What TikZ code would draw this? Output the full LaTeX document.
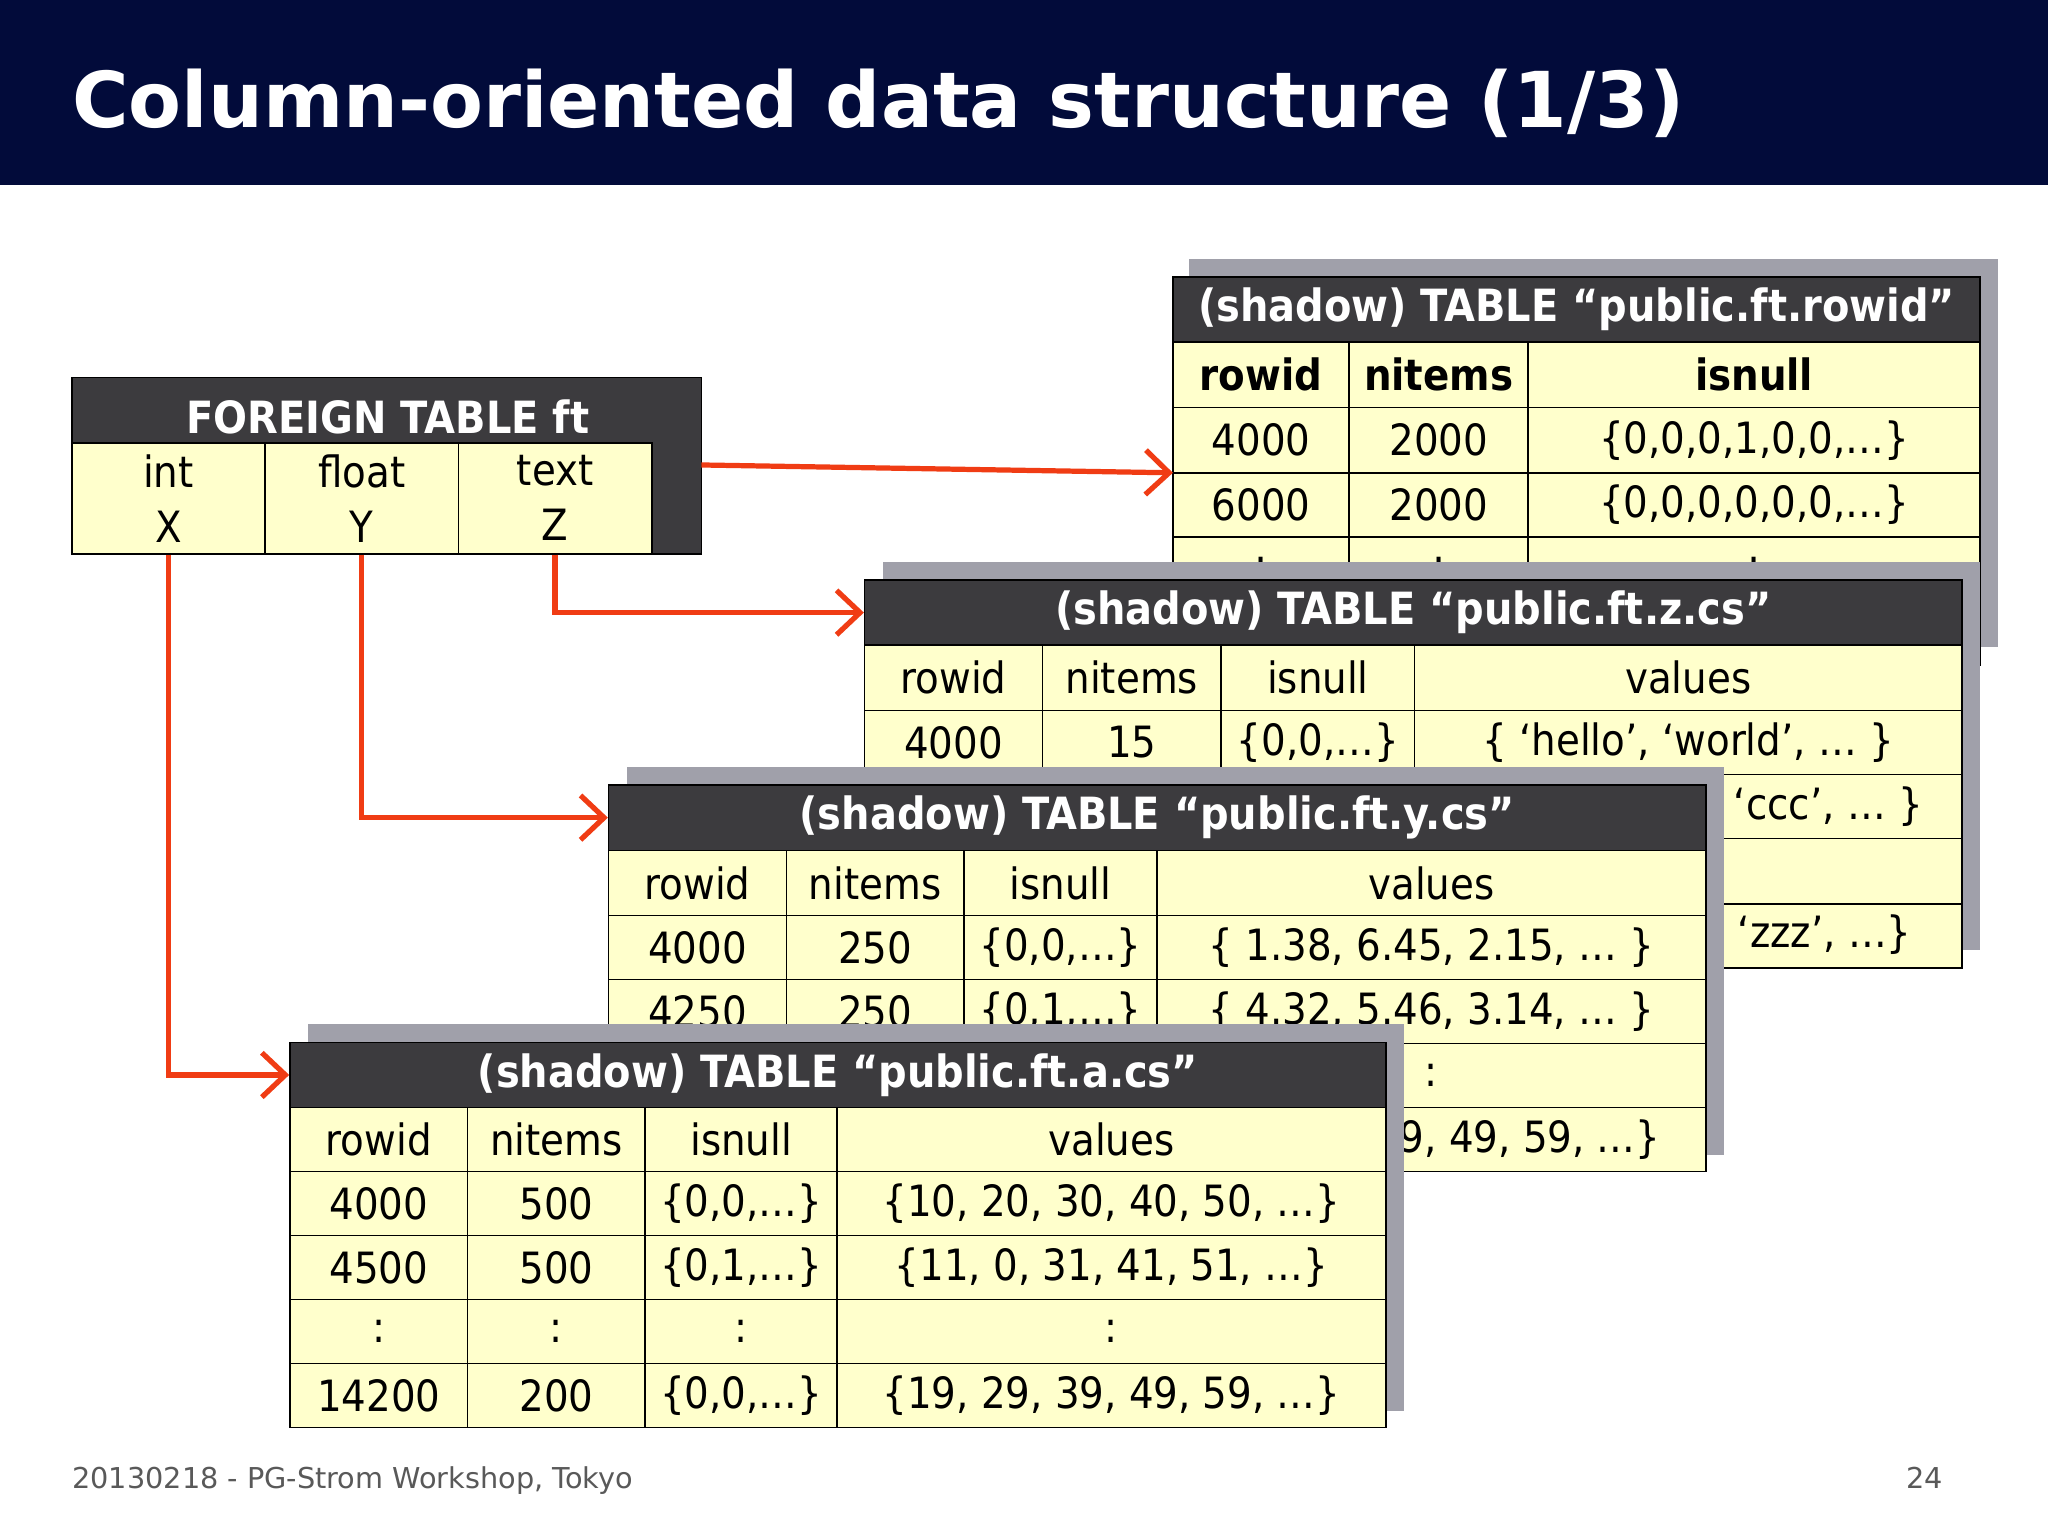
\documentclass[tikz,border=0pt]{standalone}
\usepackage{fontspec}
\setmainfont{DejaVu Sans}
\newfontfamily\condfont{DejaVu Sans Condensed}
\usetikzlibrary{arrows.meta}
\definecolor{navy}{HTML}{020B3A}
\definecolor{cellyellow}{HTML}{FFFFCC}
\definecolor{hdr}{HTML}{3C3B3E}
\definecolor{shd}{HTML}{A0A0AA}
\definecolor{arrred}{HTML}{F03C14}
\newcommand\cellfont{\condfont\fontsize{16.5}{21}\selectfont}
\tikzset{
 cellst/.style={draw=black, line width=0.6pt, fill=cellyellow, inner sep=0pt, font=\cellfont, anchor=center, align=center},
 hdrst/.style={draw=black, line width=0.6pt, fill=hdr, text=white, inner sep=0pt, font=\condfont\fontsize{17}{20}\selectfont\bfseries, anchor=center},
 shdst/.style={fill=shd, draw=none, inner sep=0pt, anchor=center},
 arr/.style={draw=arrred, line width=2pt, -{Straight Barb[length=9pt,width=17pt,line width=2pt]}}
}
\newcommand\cl[6]{\node[cellst, minimum width={(#4-#2)*0.5pt}, minimum height={(#5-#3)*0.5pt}] (#1) at ({(#2+#4)/2},{(#3+#5)/2}) {#6};}
\newcommand\hd[6]{\node[hdrst, minimum width={(#4-#2)*0.5pt}, minimum height={(#5-#3)*0.5pt}] (#1) at ({(#2+#4)/2},{(#3+#5)/2}) {#6};}
\newcommand\sh[5]{\node[shdst, minimum width={(#4-#2)*0.5pt}, minimum height={(#5-#3)*0.5pt}] (#1) at ({(#2+#4)/2},{(#3+#5)/2}) {};}
\newcommand\trow[7]{%
 \cl{#1-1}{\xa}{#2}{\xb}{#3}{#4}\cl{#1-2}{\xb}{#2}{\xc}{#3}{#5}\cl{#1-3}{\xc}{#2}{\xd}{#3}{#6}\trowlast{#1}{#2}{#3}{#7}}
\newcommand\trowlast[4]{\cl{#1-4}{\xd}{#2}{\xe}{#3}{#4}}
\newcommand\trowiii[6]{%
 \cl{#1-1}{\xa}{#2}{\xb}{#3}{#4}\cl{#1-2}{\xb}{#2}{\xc}{#3}{#5}\cl{#1-3}{\xc}{#2}{\xd}{#3}{#6}}
\begin{document}
\begin{tikzpicture}[x=0.5pt,y=-0.5pt]
\useasboundingbox (0,0) rectangle (1568,1176);
\fill[white] (0,0) rectangle (1568,1176);
\fill[navy] (0,0) rectangle (1568,142);
\node[anchor=base west, text=white, font=\fontsize{29.5}{34}\selectfont\bfseries, inner sep=0pt] (title) at (55,98) {Column-oriented data structure (1/3)};

% foreign table
\node[fill=hdr, draw=black, line width=0.6pt, minimum width=241pt, minimum height=67.5pt, inner sep=0pt] (ftbox) at (296,356.5) {};
\node[text=white, font=\condfont\fontsize{17}{20}\selectfont\bfseries, inner sep=0pt] (fth) at (297,319) {FOREIGN TABLE ft};
\cl{fx}{55}{339}{203}{424}{int\\X}
\cl{fy}{203}{339}{351}{424}{float\\Y}
\cl{fz}{351}{339}{499}{424}{text\\Z}

% rowid table
\sh{rs}{910}{198}{1530}{495}
\hd{rh}{898}{212}{1516}{262}{(shadow) TABLE “public.ft.rowid”}
\def\xa{898}\def\xb{1033}\def\xc{1170}\def\xd{1516}
\trowiii{r1}{262}{312}{\textbf{rowid}}{\textbf{nitems}}{\textbf{isnull}}
\trowiii{r2}{312}{362}{4000}{2000}{\{0,0,0,1,0,0,…\}}
\trowiii{r3}{362}{411}{6000}{2000}{\{0,0,0,0,0,0,…\}}
\trowiii{r4}{411}{460}{:}{:}{:}
\trowiii{r5}{460}{509}{14000}{200}{\{0,0,0,0,0,0,…\}}

% z table
\sh{zs}{676}{430}{1516}{727}
\hd{zh}{662}{444}{1502}{494}{(shadow) TABLE “public.ft.z.cs”}
\def\xa{662}\def\xb{798}\def\xc{935}\def\xd{1083}\def\xe{1502}
\trow{z1}{494}{544}{rowid}{nitems}{isnull}{values}
\trow{z2}{544}{593}{4000}{15}{\{0,0,…\}}{\{ ‘hello’, ‘world’, … \}}
\trow{z3}{593}{642}{4015}{20}{\{0,0,…\}}{\{ ‘aaa’, ‘bbb’, ‘ccc’, … \}}
\trow{z4}{642}{692}{:}{:}{:}{:}
\trow{z5}{692}{741}{14200}{50}{\{0,0,…\}}{\{ ‘xxx’, ‘yyy’, ‘zzz’, …\}}

% y table
\sh{ys}{480}{587}{1320}{884}
\hd{yh}{466}{601}{1306}{651}{(shadow) TABLE “public.ft.y.cs”}
\def\xa{466}\def\xb{602}\def\xc{738}\def\xd{886}\def\xe{1306}
\trow{y1}{651}{701}{rowid}{nitems}{isnull}{values}
\trow{y2}{701}{750}{4000}{250}{\{0,0,…\}}{\{ 1.38, 6.45, 2.15, … \}}
\trow{y3}{750}{799}{4250}{250}{\{0,1,…\}}{\{ 4.32, 5.46, 3.14, … \}}
\trow{y4}{799}{848}{:}{:}{:}{:}
\trow{y5}{848}{897}{14200}{200}{\{0,0,…\}}{\{19, 29, 39, 49, 59, …\}}

% a table
\sh{as}{236}{784}{1075}{1080}
\hd{ah}{222}{798}{1061}{848}{(shadow) TABLE “public.ft.a.cs”}
\def\xa{222}\def\xb{358}\def\xc{494}\def\xd{641}\def\xe{1061}
\trow{a1}{848}{897}{rowid}{nitems}{isnull}{values}
\trow{a2}{897}{946}{4000}{500}{\{0,0,…\}}{\{10, 20, 30, 40, 50, …\}}
\trow{a3}{946}{995}{4500}{500}{\{0,1,…\}}{\{11, 0, 31, 41, 51, …\}}
\trow{a4}{995}{1044}{:}{:}{:}{:}
\trow{a5}{1044}{1093}{14200}{200}{\{0,0,…\}}{\{19, 29, 39, 49, 59, …\}}

% arrows
\coordinate (c1) at (537,356);
\coordinate (c2) at (898,362);
\draw[arr] (c1) -- (c2);
\draw[arr] (fz.south) |- (zh.west);
\draw[arr] (fy.south) |- (yh.west);
\draw[arr] (fx.south) |- (ah.west);

% footer
\node[anchor=base west, text=black!65, font=\fontsize{11}{13}\selectfont, inner sep=0pt] (foot) at (55,1140) {20130218 - PG-Strom Workshop, Tokyo};
\node[anchor=base east, text=black!65, font=\fontsize{11}{13}\selectfont, inner sep=0pt] (pg) at (1488,1140) {24};
\end{tikzpicture}
\end{document}
